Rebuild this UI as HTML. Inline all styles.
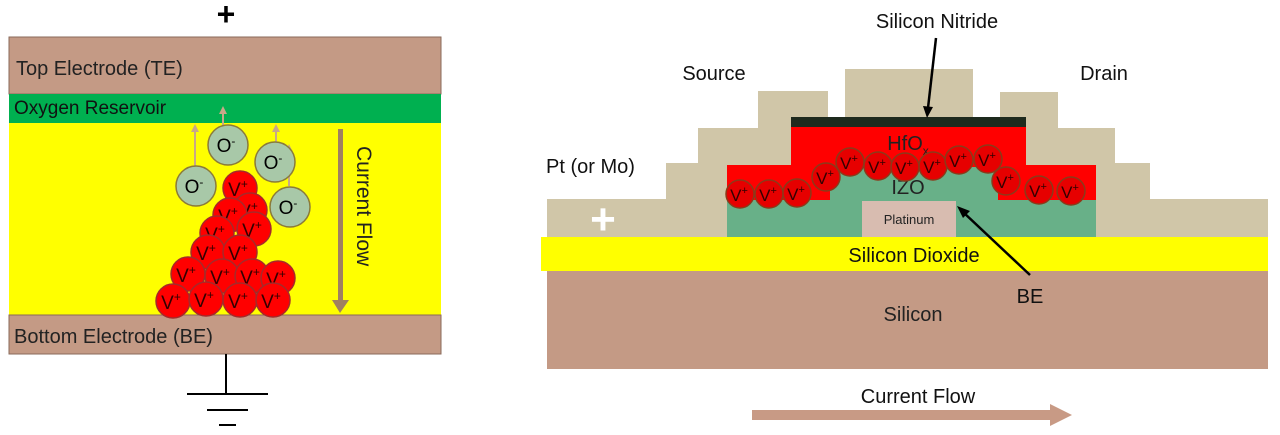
<!DOCTYPE html>
<html><head><meta charset="utf-8"><style>
html,body{margin:0;padding:0;background:#fff;}
svg{display:block;font-family:"Liberation Sans",sans-serif;}
</style></head><body>
<svg width="1280" height="435" viewBox="0 0 1280 435">
<defs>
<g id="vp"><circle r="17" fill="#f00" stroke="#a52a2a" stroke-width="1.5"/><text x="-2" y="8" font-size="19" text-anchor="middle" fill="#300">V<tspan font-size="12" dy="-8">+</tspan></text></g>
<g id="vs"><circle r="14" fill="#e60000" stroke="#8b3a1a" stroke-width="1.5"/><text x="-1" y="7" font-size="17" text-anchor="middle" fill="#300">V<tspan font-size="11" dy="-7">+</tspan></text></g>
<g id="om"><circle r="20" fill="#a8c8a8" stroke="#8a7a3a" stroke-width="1.5"/><text x="-2" y="7" font-size="19" text-anchor="middle" fill="#000">O<tspan font-size="12" dy="-7">-</tspan></text></g>
</defs>
<!-- LEFT -->
<text x="226" y="25" font-size="32" font-weight="bold" text-anchor="middle">+</text>
<rect x="9" y="37" width="432" height="57" fill="#c49a85" stroke="#8a6a5a"/>
<text x="16" y="75" font-size="20" fill="#222">Top Electrode (TE)</text>
<rect x="9" y="94" width="432" height="29" fill="#00b050"/>
<text x="14" y="114" font-size="19" fill="#111">Oxygen Reservoir</text>
<rect x="9" y="123" width="432" height="192" fill="#ffff00"/>
<rect x="9" y="315" width="432" height="39" fill="#c49a85" stroke="#8a6a5a"/>
<text x="14" y="343" font-size="20" fill="#222">Bottom Electrode (BE)</text>
<line x1="226" y1="354" x2="226" y2="394" stroke="#000" stroke-width="2"/>
<line x1="187" y1="394" x2="268" y2="394" stroke="#000" stroke-width="2"/>
<line x1="207" y1="410" x2="248" y2="410" stroke="#000" stroke-width="2"/>
<line x1="219" y1="425" x2="236" y2="425" stroke="#000" stroke-width="2"/>
<rect x="338" y="129" width="5" height="176" fill="#a08060"/>
<polygon points="332,300 349,300 340,313" fill="#a08060"/>
<text transform="translate(357,146) rotate(90)" font-size="21" fill="#222">Current Flow</text>
<g stroke="#c8a888" stroke-width="2" fill="#c8a888">
<line x1="195" y1="166" x2="195" y2="130"/><polygon points="191,132 199,132 195,124" stroke="none"/>
<line x1="223" y1="126" x2="223" y2="112"/><polygon points="219,114 227,114 223,106" stroke="none"/>
<line x1="276" y1="142" x2="276" y2="130"/><polygon points="272,132 280,132 276,124" stroke="none"/>
<line x1="289" y1="186" x2="289" y2="150"/><polygon points="285,152 293,152 289,144" stroke="none"/>
</g>
<use href="#om" x="228" y="145"/>
<use href="#om" x="275" y="162"/>
<use href="#om" x="196" y="186"/>
<use href="#vp" x="240" y="188"/>
<use href="#vp" x="250" y="210"/>
<use href="#vp" x="230" y="215"/>
<use href="#om" x="290" y="207"/>
<use href="#vp" x="217" y="233"/>
<use href="#vp" x="254" y="229"/>
<use href="#vp" x="208" y="252"/>
<use href="#vp" x="240" y="252"/>
<use href="#vp" x="188" y="274"/>
<use href="#vp" x="222" y="276"/>
<use href="#vp" x="252" y="276"/>
<use href="#vp" x="278" y="278"/>
<use href="#vp" x="173" y="301"/>
<use href="#vp" x="206" y="299"/>
<use href="#vp" x="240" y="300"/>
<use href="#vp" x="273" y="300"/>
<!-- RIGHT -->
<text x="937" y="28" font-size="20" text-anchor="middle" fill="#111">Silicon Nitride</text>
<text x="714" y="80" font-size="20" text-anchor="middle" fill="#111">Source</text>
<text x="1104" y="80" font-size="20" text-anchor="middle" fill="#111">Drain</text>
<text x="546" y="173" font-size="20" fill="#111">Pt (or Mo)</text>
<g fill="#d0c6a8">
<rect x="845" y="69" width="128" height="50"/>
<rect x="758" y="91" width="70" height="150"/>
<rect x="698" y="128" width="70" height="110"/>
<rect x="666" y="163" width="50" height="75"/>
<rect x="547" y="199" width="130" height="38"/>
<rect x="1000" y="92" width="58" height="150"/>
<rect x="1040" y="128" width="75" height="110"/>
<rect x="1100" y="163" width="50" height="75"/>
<rect x="1138" y="199" width="130" height="38"/>
</g>
<text x="603" y="234" font-size="44" font-weight="bold" fill="#fff" text-anchor="middle">+</text>
<rect x="727" y="165" width="369" height="72" fill="#68b088"/>
<rect x="791" y="117" width="235" height="10" fill="#1e2a1e"/>
<rect x="791" y="127" width="235" height="40" fill="#f00"/>
<rect x="727" y="165" width="103" height="35" fill="#f00"/>
<rect x="998" y="165" width="98" height="35" fill="#f00"/>
<rect x="830" y="175" width="168" height="62" fill="#68b088"/>
<text x="908" y="150" font-size="20" text-anchor="middle" fill="#222">HfO<tspan font-size="12" dy="5">x</tspan></text>
<text x="908" y="194" font-size="20" text-anchor="middle" fill="#222">IZO</text>
<rect x="862" y="201" width="94" height="36" fill="#d8bcb0"/>
<text x="909" y="224" font-size="13" text-anchor="middle" fill="#222">Platinum</text>
<use href="#vs" x="740" y="194"/><use href="#vs" x="769" y="194"/><use href="#vs" x="797" y="193"/>
<use href="#vs" x="826" y="177"/><use href="#vs" x="850" y="162"/><use href="#vs" x="878" y="166"/>
<use href="#vs" x="905" y="167"/><use href="#vs" x="933" y="166"/><use href="#vs" x="959" y="160"/>
<use href="#vs" x="988" y="159"/><use href="#vs" x="1006" y="181"/><use href="#vs" x="1039" y="190"/><use href="#vs" x="1071" y="191"/>
<rect x="541" y="237" width="727" height="34" fill="#ffff00"/>
<text x="914" y="262" font-size="20" text-anchor="middle" fill="#111">Silicon Dioxide</text>
<rect x="547" y="271" width="721" height="98" fill="#c49a85"/>
<text x="913" y="321" font-size="20" text-anchor="middle" fill="#222">Silicon</text>
<text x="1030" y="303" font-size="20" text-anchor="middle" fill="#111">BE</text>
<line x1="1030" y1="275" x2="963" y2="212" stroke="#000" stroke-width="2.5"/>
<polygon points="957,206 970,211 963,218" fill="#000"/>
<line x1="936" y1="38" x2="928" y2="108" stroke="#000" stroke-width="2.5"/>
<polygon points="923,106 933,107 927,118" fill="#000"/>
<text x="918" y="403" font-size="20" text-anchor="middle" fill="#111">Current Flow</text>
<rect x="752" y="410" width="300" height="10" fill="#c89a85"/>
<polygon points="1050,404 1072,415 1050,426" fill="#c89a85"/>
</svg>
</body></html>
